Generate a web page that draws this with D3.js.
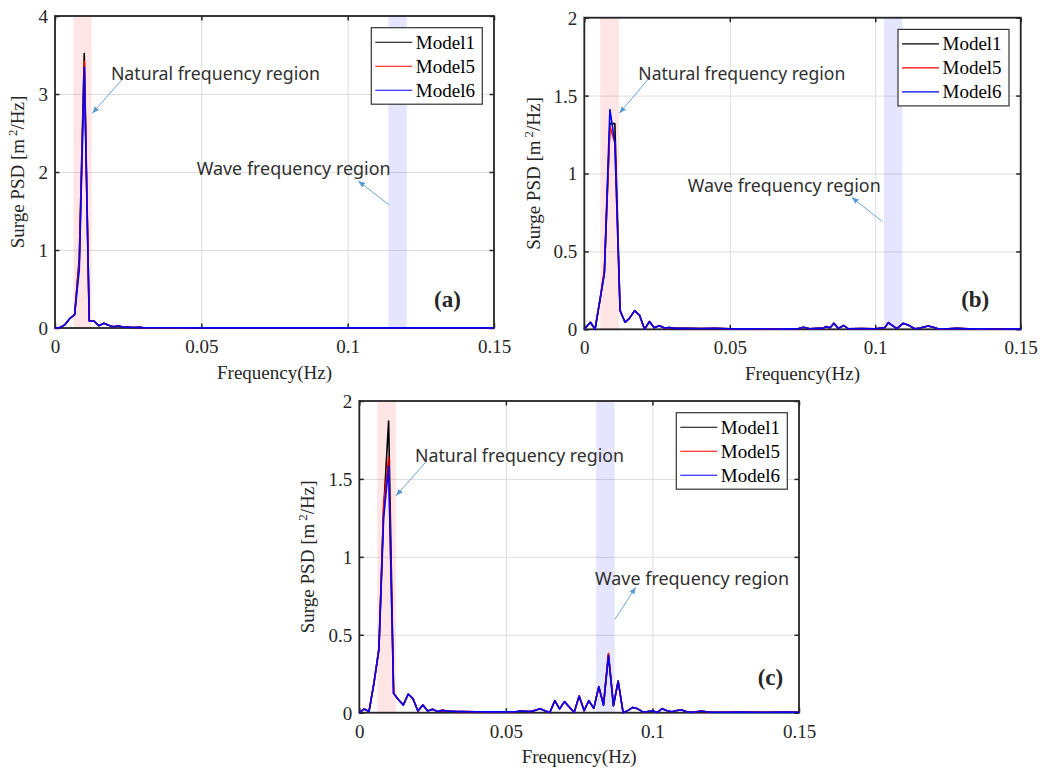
<!DOCTYPE html>
<html><head><meta charset="utf-8">
<script src="https://cdn.jsdelivr.net/npm/d3@7"></script>
<style>body{margin:0;background:#fff}</style>
</head><body><svg id="chart" width="1047" height="772"></svg>
<script>
// ---------------- data ----------------
const seriesNames = ["Model1", "Model5", "Model6"];
const seriesColors = ["#000000", "#ff0000", "#0000ff"];
const xTicks = [0, 0.05, 0.1, 0.15];
const yTicksA = [0, 1, 2, 3, 4];
const yTicksBC = [0, 0.5, 1, 1.5, 2];
const annotationTexts = ["Natural frequency region", "Wave frequency region"];
const panelLabels = ["(a)", "(b)", "(c)"];
const naturalBands = [[0.0063, 0.0125], [0.0055, 0.0119], [0.0061, 0.0125]];
const waveBands = [[0.1139, 0.1202], [0.103, 0.1093], [0.0808, 0.0871]];

const freqA = [0, 0.0017, 0.0033, 0.005, 0.0067, 0.0083, 0.01, 0.0117, 0.0133, 0.015, 0.0167, 0.0183, 0.02, 0.0217, 0.0233, 0.025, 0.0267, 0.0283, 0.03, 0.035, 0.04, 0.05, 0.06, 0.07, 0.08, 0.09, 0.1, 0.11, 0.12, 0.13, 0.14, 0.15];
const aModel1 = [0, 0.005, 0.04, 0.12, 0.17, 0.9, 3.52, 0.09, 0.09, 0.03, 0.06, 0.035, 0.015, 0.03, 0.01, 0.012, 0.006, 0.008, 0.005, 0.004, 0.003, 0.002, 0.002, 0.002, 0.002, 0.002, 0.002, 0.002, 0.002, 0.002, 0.002, 0.002];
const aModel5 = [0, 0.005, 0.04, 0.12, 0.17, 0.85, 3.42, 0.09, 0.09, 0.03, 0.06, 0.035, 0.015, 0.03, 0.01, 0.012, 0.006, 0.008, 0.005, 0.004, 0.003, 0.002, 0.002, 0.002, 0.002, 0.002, 0.002, 0.002, 0.002, 0.002, 0.002, 0.002];
const aModel6 = [0, 0.005, 0.04, 0.12, 0.17, 0.75, 3.34, 0.09, 0.09, 0.03, 0.06, 0.035, 0.015, 0.03, 0.01, 0.012, 0.006, 0.008, 0.005, 0.004, 0.003, 0.002, 0.002, 0.002, 0.002, 0.002, 0.002, 0.002, 0.002, 0.002, 0.002, 0.002];

const freqB = [0, 0.0021, 0.0037, 0.0054, 0.0069, 0.0088, 0.0105, 0.0123, 0.014, 0.0155, 0.0173, 0.019, 0.0207, 0.0224, 0.024, 0.0258, 0.0276, 0.0293, 0.0312, 0.035, 0.04, 0.045, 0.05, 0.055, 0.06, 0.065, 0.07, 0.0735, 0.0753, 0.0775, 0.08, 0.082, 0.083, 0.0845, 0.0858, 0.0873, 0.0892, 0.0907, 0.095, 0.1, 0.102, 0.1033, 0.1045, 0.1074, 0.1096, 0.1113, 0.1136, 0.1154, 0.1182, 0.1199, 0.1216, 0.125, 0.128, 0.132, 0.137, 0.142, 0.15];
const bModel1 = [0, 0.045, 0.0, 0.19, 0.36, 1.32, 1.32, 0.12, 0.045, 0.07, 0.12, 0.09, 0.0, 0.05, 0.01, 0.023, 0.008, 0.012, 0.006, 0.007, 0.005, 0.006, 0.004, 0.003, 0.004, 0.002, 0.003, 0.004, 0.013, 0.004, 0.006, 0.006, 0.017, 0.01, 0.0385, 0.006, 0.024, 0.004, 0.005, 0.004, 0.008, 0.011, 0.043, 0.004, 0.038, 0.028, 0.004, 0.008, 0.021, 0.013, 0.003, 0.004, 0.006, 0.003, 0.004, 0.002, 0.003];
const bModel5 = [0, 0.045, 0.0, 0.19, 0.38, 1.30, 1.2, 0.12, 0.045, 0.07, 0.12, 0.09, 0.0, 0.05, 0.01, 0.023, 0.008, 0.012, 0.006, 0.007, 0.005, 0.006, 0.004, 0.003, 0.004, 0.002, 0.003, 0.004, 0.013, 0.004, 0.006, 0.006, 0.017, 0.01, 0.0385, 0.006, 0.024, 0.004, 0.005, 0.004, 0.008, 0.011, 0.043, 0.004, 0.038, 0.028, 0.004, 0.008, 0.021, 0.013, 0.003, 0.004, 0.006, 0.003, 0.004, 0.002, 0.003];
const bModel6 = [0, 0.045, 0.0, 0.19, 0.36, 1.41, 1.2, 0.12, 0.045, 0.07, 0.12, 0.09, 0.0, 0.05, 0.01, 0.023, 0.008, 0.012, 0.006, 0.007, 0.005, 0.006, 0.004, 0.003, 0.004, 0.002, 0.003, 0.004, 0.013, 0.004, 0.006, 0.006, 0.017, 0.01, 0.0385, 0.006, 0.024, 0.004, 0.005, 0.004, 0.008, 0.011, 0.043, 0.004, 0.038, 0.028, 0.004, 0.008, 0.021, 0.013, 0.003, 0.004, 0.006, 0.003, 0.004, 0.002, 0.003];

const freqC = [0, 0.0017, 0.0033, 0.005, 0.0067, 0.0083, 0.01, 0.0117, 0.0133, 0.015, 0.0167, 0.0183, 0.02, 0.0217, 0.0233, 0.025, 0.0267, 0.0283, 0.03, 0.0317, 0.0333, 0.035, 0.04, 0.045, 0.05, 0.0517, 0.0533, 0.055, 0.0567, 0.0583, 0.06, 0.0617, 0.0633, 0.065, 0.0667, 0.0683, 0.07, 0.0717, 0.0733, 0.075, 0.0767, 0.0783, 0.08, 0.0817, 0.0833, 0.085, 0.0867, 0.0883, 0.09, 0.0917, 0.0933, 0.095, 0.0967, 0.0983, 0.1, 0.1017, 0.1033, 0.105, 0.1067, 0.1083, 0.11, 0.1117, 0.1133, 0.115, 0.1167, 0.1183, 0.12, 0.125, 0.13, 0.135, 0.14, 0.145, 0.15];
const cModel1 = [0, 0.024, 0.007, 0.19, 0.41, 1.3, 1.872, 0.124, 0.085, 0.049, 0.12, 0.09, 0.011, 0.049, 0.011, 0.022, 0.007, 0.015, 0.01, 0.009, 0.008, 0.007, 0.006, 0.005, 0.005, 0.006, 0.006, 0.011, 0.009, 0.007, 0.015, 0.026, 0.013, 0.002, 0.077, 0.024, 0.071, 0.035, 0.002, 0.107, 0.013, 0.077, 0.028, 0.167, 0.049, 0.375, 0.045, 0.203, 0.0, 0.015, 0.034, 0.025, 0.005, 0.008, 0.013, 0.002, 0.026, 0.012, 0.006, 0.014, 0.017, 0.006, 0.002, 0.006, 0.011, 0.006, 0.004, 0.003, 0.004, 0.003, 0.003, 0.004, 0.003];
const cModel5 = [0, 0.024, 0.007, 0.19, 0.41, 1.33, 1.639, 0.124, 0.085, 0.049, 0.12, 0.09, 0.011, 0.049, 0.011, 0.022, 0.007, 0.015, 0.01, 0.009, 0.008, 0.007, 0.006, 0.005, 0.005, 0.006, 0.006, 0.011, 0.009, 0.007, 0.015, 0.026, 0.013, 0.002, 0.077, 0.024, 0.071, 0.035, 0.002, 0.107, 0.013, 0.077, 0.028, 0.167, 0.049, 0.38, 0.045, 0.203, 0.0, 0.015, 0.034, 0.025, 0.005, 0.008, 0.013, 0.002, 0.026, 0.012, 0.006, 0.014, 0.017, 0.006, 0.002, 0.006, 0.011, 0.006, 0.004, 0.003, 0.004, 0.003, 0.003, 0.004, 0.003];
const cModel6 = [0, 0.024, 0.007, 0.19, 0.41, 1.25, 1.579, 0.124, 0.085, 0.049, 0.12, 0.09, 0.011, 0.049, 0.011, 0.022, 0.007, 0.015, 0.01, 0.009, 0.008, 0.007, 0.006, 0.005, 0.005, 0.006, 0.006, 0.011, 0.009, 0.007, 0.015, 0.026, 0.013, 0.002, 0.077, 0.024, 0.071, 0.035, 0.002, 0.107, 0.013, 0.077, 0.028, 0.167, 0.049, 0.365, 0.045, 0.203, 0.0, 0.015, 0.034, 0.025, 0.005, 0.008, 0.013, 0.002, 0.026, 0.012, 0.006, 0.014, 0.017, 0.006, 0.002, 0.006, 0.011, 0.006, 0.004, 0.003, 0.004, 0.003, 0.003, 0.004, 0.003];

// ---------------- layout ----------------
const panels = [
  { left: 55, right: 494, top: 16, bottom: 328, ymax: 4, yTicks: yTicksA,
    freq: freqA, series: [aModel1, aModel5, aModel6], label: panelLabels[0],
    natBand: naturalBands[0], waveBand: waveBands[0], ylabX: 23.5,
    natText: [0.0191, 3.18], natArrow: [[0.0228, 3.18], [0.01275, 2.753]], natW: 209,
    waveText: [0.0484, 1.96], waveArrow: [[0.1142, 1.577], [0.1036, 1.885]], waveW: 194,
    labelPos: [0.1387, 0.273] },
  { left: 584.3, right: 1020.7, top: 17.7, bottom: 329.3, ymax: 2, yTicks: yTicksBC,
    freq: freqB, series: [bModel1, bModel5, bModel6], label: panelLabels[1],
    natBand: naturalBands[1], waveBand: waveBands[1], ylabX: 539.5,
    natText: [0.01856, 1.60], natArrow: [[0.022, 1.606], [0.01203, 1.386]], natW: 207,
    waveText: [0.03553, 0.883], waveArrow: [[0.1025, 0.691], [0.0919, 0.847]], waveW: 193,
    labelPos: [0.1392, 0.145] },
  { left: 359.3, right: 799, top: 401, bottom: 712.7, ymax: 2, yTicks: yTicksBC,
    freq: freqC, series: [cModel1, cModel5, cModel6], label: panelLabels[2],
    natBand: naturalBands[2], waveBand: waveBands[2], ylabX: 313.5,
    natText: [0.019, 1.61], natArrow: [[0.02276, 1.61], [0.01252, 1.392]], natW: 209,
    waveText: [0.0804, 0.819], waveArrow: [[0.0872, 0.599], [0.0943, 0.805]], waveW: 194,
    labelPos: [0.1446, 0.178] }
];

const serif = "'Liberation Serif', 'Times New Roman', serif";
const sans = "'Noto Sans', 'DejaVu Sans', sans-serif";
const svg = d3.select("#chart");
svg.append("rect").attr("width", 1047).attr("height", 772).attr("fill", "#fff");
const defs = svg.append("defs");
defs.append("marker").attr("id", "arrow").attr("viewBox", "0 0 10 10")
  .attr("refX", 10).attr("refY", 5).attr("markerWidth", 7).attr("markerHeight", 7)
  .attr("markerUnits", "userSpaceOnUse").attr("orient", "auto")
  .append("path").attr("d", "M0,1 L10,5 L0,9 Z").attr("fill", "#5b9bd5");

function fmt(d) { return d === 0 ? "0" : String(d); }

panels.forEach(p => {
  const g = svg.append("g");
  const x = d3.scaleLinear().domain([0, 0.15]).range([p.left, p.right]);
  const y = d3.scaleLinear().domain([0, p.ymax]).range([p.bottom, p.top]);
  const H = p.bottom - p.top, W = p.right - p.left;

  // grid
  g.append("g").attr("transform", `translate(0,${p.bottom})`)
    .call(d3.axisBottom(x).tickValues(xTicks).tickSize(-H).tickFormat(""))
    .call(s => { s.select(".domain").remove(); s.selectAll("line").attr("stroke", "#dedede").attr("stroke-width", 1); });
  g.append("g").attr("transform", `translate(${p.left},0)`)
    .call(d3.axisLeft(y).tickValues(p.yTicks).tickSize(-W).tickFormat(""))
    .call(s => { s.select(".domain").remove(); s.selectAll("line").attr("stroke", "#dedede").attr("stroke-width", 1); });

  // shaded regions
  g.append("rect").attr("x", x(p.natBand[0])).attr("width", x(p.natBand[1]) - x(p.natBand[0]))
    .attr("y", p.top).attr("height", H).attr("fill", "#ff0000").attr("fill-opacity", 0.1);
  g.append("rect").attr("x", x(p.waveBand[0])).attr("width", x(p.waveBand[1]) - x(p.waveBand[0]))
    .attr("y", p.top).attr("height", H).attr("fill", "#0000ff").attr("fill-opacity", 0.1);

  // axes (ticks inward)
  const axB = g.append("g").attr("transform", `translate(0,${p.bottom})`)
    .call(d3.axisBottom(x).tickValues(xTicks).tickSizeInner(-4.5).tickSizeOuter(0).tickFormat(fmt));
  axB.select(".domain").remove();
  axB.selectAll("line").attr("stroke", "#262626").attr("stroke-width", 1.5);
  axB.selectAll("text").attr("y", 25).attr("dy", 0).attr("font-family", serif).attr("font-size", 19).attr("fill", "#262626");

  const axT = g.append("g").attr("transform", `translate(0,${p.top})`)
    .call(d3.axisTop(x).tickValues(xTicks).tickSizeInner(-4.5).tickSizeOuter(0).tickFormat(""));
  axT.select(".domain").remove();
  axT.selectAll("line").attr("stroke", "#262626").attr("stroke-width", 1.5);

  const axL = g.append("g").attr("transform", `translate(${p.left},0)`)
    .call(d3.axisLeft(y).tickValues(p.yTicks).tickSizeInner(-4.5).tickSizeOuter(0).tickPadding(7).tickFormat(fmt));
  axL.select(".domain").remove();
  axL.selectAll("line").attr("stroke", "#262626").attr("stroke-width", 1.5);
  axL.selectAll("text").attr("x", -7).attr("dy", "0.34em").attr("font-family", serif).attr("font-size", 19).attr("fill", "#262626");

  const axR = g.append("g").attr("transform", `translate(${p.right},0)`)
    .call(d3.axisRight(y).tickValues(p.yTicks).tickSizeInner(-4.5).tickSizeOuter(0).tickFormat(""));
  axR.select(".domain").remove();
  axR.selectAll("line").attr("stroke", "#262626").attr("stroke-width", 1.5);

  // box
  g.append("rect").attr("x", p.left).attr("y", p.top).attr("width", W).attr("height", H)
    .attr("fill", "none").attr("stroke", "#262626").attr("stroke-width", 1.8);

  // lines (drawn over the axes, as in the reference)
  const line = d3.line().x(d => x(d[0])).y(d => y(d[1]));
  p.series.forEach((vals, i) => {
    const pts = p.freq.map((f, k) => [f, vals[k]]);
    g.append("path").datum(pts).attr("d", line).attr("fill", "none")
      .attr("stroke", seriesColors[i]).attr("stroke-width", 1.6).attr("stroke-linejoin", "round");
  });

  // axis labels
  g.append("text").attr("x", (p.left + p.right) / 2).attr("y", p.bottom + 50.5)
    .attr("text-anchor", "middle").attr("font-family", serif).attr("font-size", 19).attr("fill", "#262626")
    .text("Frequency(Hz)");
  const yl = g.append("text").attr("transform", `translate(${p.ylabX},${(p.top + p.bottom) / 2}) rotate(-90)`)
    .attr("text-anchor", "middle").attr("font-family", serif).attr("font-size", 19).attr("fill", "#262626");
  yl.append("tspan").text("Surge PSD [m");
  yl.append("tspan").attr("dx", 3).attr("dy", -7).attr("font-size", 13).text("2");
  yl.append("tspan").attr("dy", 7).text("/Hz]");

  // annotations
  g.append("text").attr("x", x(p.natText[0])).attr("y", y(p.natText[1]))
    .attr("font-family", sans).attr("font-size", 18).attr("fill", "#303030")
    .attr("textLength", p.natW).attr("lengthAdjust", "spacingAndGlyphs").text(annotationTexts[0]);
  g.append("text").attr("x", x(p.waveText[0])).attr("y", y(p.waveText[1]))
    .attr("font-family", sans).attr("font-size", 18).attr("fill", "#303030")
    .attr("textLength", p.waveW).attr("lengthAdjust", "spacingAndGlyphs").text(annotationTexts[1]);
  [p.natArrow, p.waveArrow].forEach(a => {
    g.append("line").attr("x1", x(a[0][0])).attr("y1", y(a[0][1]))
      .attr("x2", x(a[1][0])).attr("y2", y(a[1][1]))
      .attr("stroke", "#5b9bd5").attr("stroke-width", 0.9).attr("marker-end", "url(#arrow)");
  });

  // panel label
  g.append("text").attr("x", x(p.labelPos[0])).attr("y", y(p.labelPos[1]))
    .attr("text-anchor", "end").attr("font-family", serif).attr("font-size", 23)
    .attr("font-weight", "bold").attr("fill", "#262626").text(p.label);

  // legend
  const lg = g.append("g").attr("transform", `translate(${p.right - 11.7 - 111},${p.top + 11.7})`);
  lg.append("rect").attr("width", 111).attr("height", 76.5).attr("fill", "#fff")
    .attr("stroke", "#333").attr("stroke-width", 1.2);
  seriesNames.forEach((n, i) => {
    const cy = 14.5 + i * 24;
    lg.append("line").attr("x1", 4).attr("x2", 41).attr("y1", cy).attr("y2", cy)
      .attr("stroke", seriesColors[i]).attr("stroke-width", 1.1);
    lg.append("text").attr("x", 44.5).attr("y", cy).attr("dy", "0.34em")
      .attr("font-family", serif).attr("font-size", 19).attr("fill", "#000").text(n);
  });
});
</script>
</body></html>
